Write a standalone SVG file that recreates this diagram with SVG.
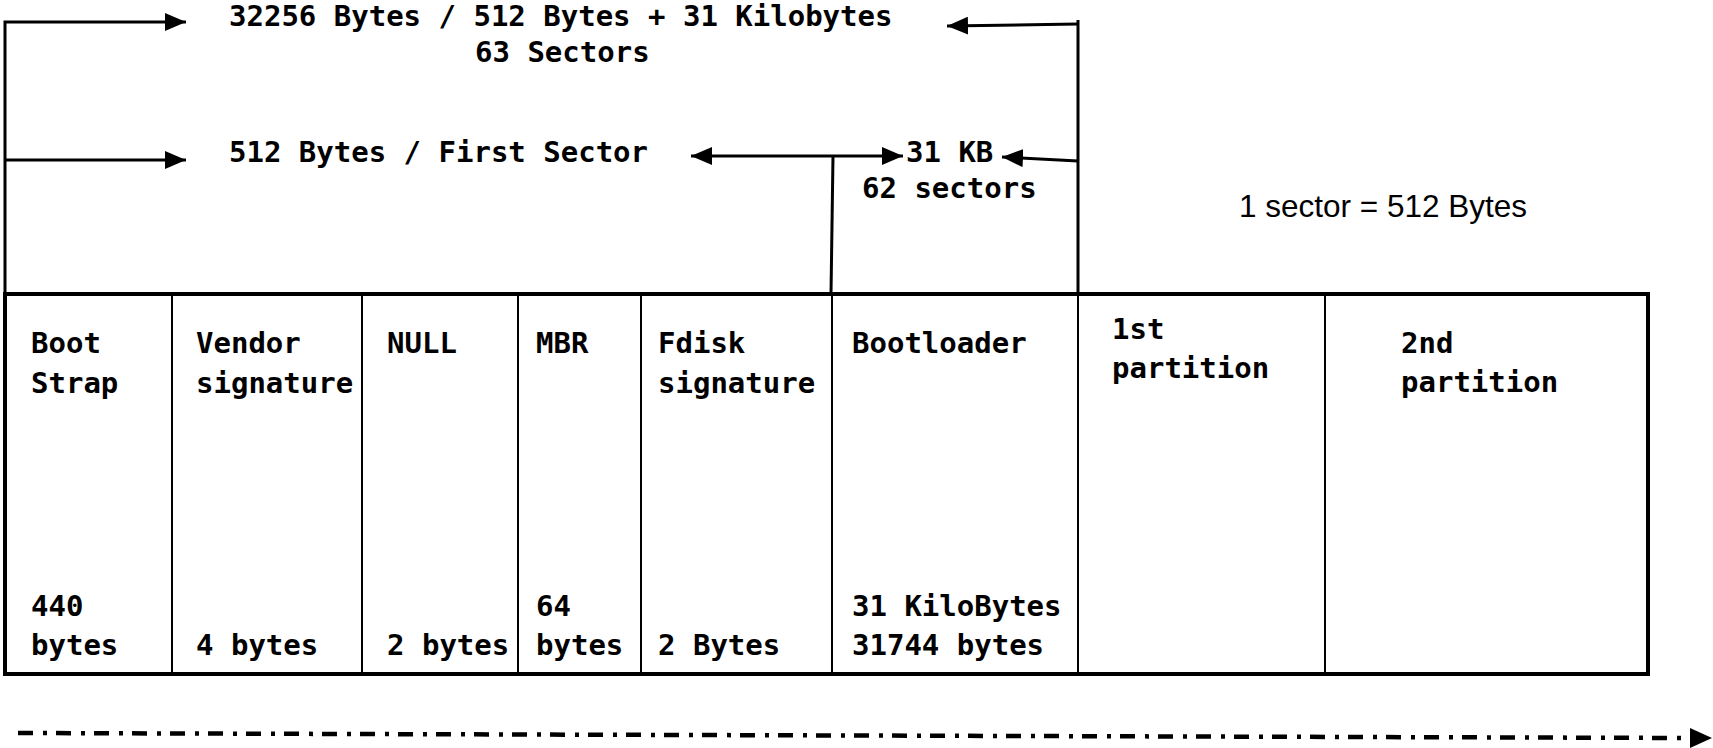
<svg xmlns="http://www.w3.org/2000/svg" width="1713" height="748" viewBox="0 0 1713 748">
<style>
.m{font-family:"DejaVu Sans Mono","Liberation Mono",monospace;font-weight:bold;font-size:29px;fill:#000}
.s{font-family:"Liberation Sans",Arial,sans-serif;font-size:31.5px;fill:#000}
.c{fill:none;stroke:#000;stroke-width:3}
.div{stroke:#000;stroke-width:2}
</style>
<defs>
<marker id="ah" markerUnits="userSpaceOnUse" markerWidth="22" markerHeight="18" refX="21" refY="9" orient="auto-start-reverse">
<path d="M0,0 L21,9 L0,18 Z" fill="#000"/>
</marker>
</defs>
<rect width="1713" height="748" fill="#fff"/>
<g id="disk">
<rect x="5" y="294" width="1643" height="380" fill="none" stroke="#000" stroke-width="4"/>
<line class="div" x1="172" y1="294" x2="172" y2="674"/>
<line class="div" x1="362" y1="294" x2="362" y2="674"/>
<line class="div" x1="518" y1="294" x2="518" y2="674"/>
<line class="div" x1="641" y1="294" x2="641" y2="674"/>
<line class="div" x1="832" y1="294" x2="832" y2="674"/>
<line class="div" x1="1078" y1="294" x2="1078" y2="674"/>
<line class="div" x1="1325" y1="294" x2="1325" y2="674"/>
</g>
<g id="bootstrap">
<text class="m" x="31" y="353">Boot</text>
<text class="m" x="31" y="393">Strap</text>
<text class="m" x="31" y="616">440</text>
<text class="m" x="31" y="655">bytes</text>
</g>
<g id="vendor">
<text class="m" x="196" y="353">Vendor</text>
<text class="m" x="196" y="393">signature</text>
<text class="m" x="196" y="655">4 bytes</text>
</g>
<g id="null">
<text class="m" x="387" y="353">NULL</text>
<text class="m" x="387" y="655">2 bytes</text>
</g>
<g id="mbr">
<text class="m" x="536" y="353">MBR</text>
<text class="m" x="536" y="616">64</text>
<text class="m" x="536" y="655">bytes</text>
</g>
<g id="fdisk">
<text class="m" x="658" y="353">Fdisk</text>
<text class="m" x="658" y="393">signature</text>
<text class="m" x="658" y="655">2 Bytes</text>
</g>
<g id="bootloader">
<text class="m" x="852" y="353">Bootloader</text>
<text class="m" x="852" y="616">31 KiloBytes</text>
<text class="m" x="852" y="655">31744 bytes</text>
</g>
<g id="part1">
<text class="m" x="1112" y="339">1st</text>
<text class="m" x="1112" y="378">partition</text>
</g>
<g id="part2">
<text class="m" x="1401" y="353">2nd</text>
<text class="m" x="1401" y="392">partition</text>
</g>
<g id="labels">
<text class="m" x="229" y="26">32256 Bytes / 512 Bytes + 31 Kilobytes</text>
<text class="m" x="475" y="62">63 Sectors</text>
<text class="m" x="229" y="162">512 Bytes / First Sector</text>
<text class="m" x="906" y="162">31 KB</text>
<text class="m" x="862" y="198">62 sectors</text>
<text class="s" x="1239" y="217">1 sector = 512 Bytes</text>
</g>
<g id="connectors">
<path class="c" d="M5,294 V22 H186" marker-end="url(#ah)"/>
<path class="c" d="M5,160 H186" marker-end="url(#ah)"/>
<path class="c" d="M1078,294 V20"/>
<path class="c" d="M1078,24 L947,26" marker-end="url(#ah)"/>
<path class="c" d="M1078,161 L1002,157" marker-end="url(#ah)"/>
<path class="c" d="M691,156 H903" marker-start="url(#ah)" marker-end="url(#ah)"/>
<path class="c" d="M833,156 L831,294"/>
<path d="M18,733 L1692,738" fill="none" stroke="#000" stroke-width="4.5" stroke-dasharray="15 10 4 9"/>
<path d="M1690,728 L1712,738 L1690,748 Z" fill="#000"/>
</g>
</svg>
